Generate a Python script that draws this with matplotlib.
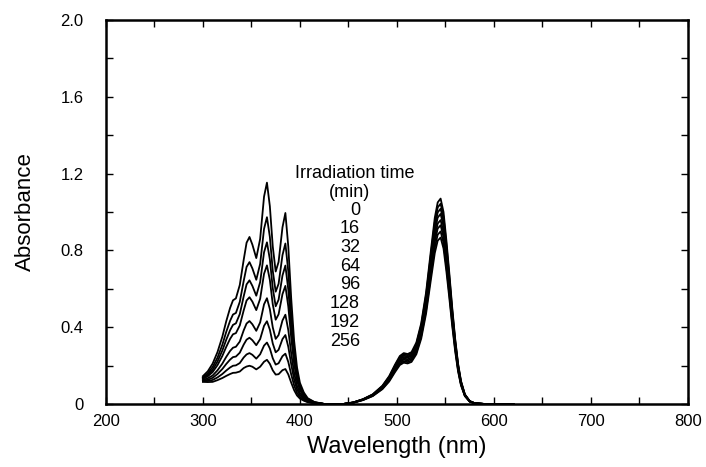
import matplotlib
matplotlib.use("Agg")
import matplotlib.pyplot as plt
from matplotlib.ticker import MultipleLocator, FixedLocator

plt.rcParams['font.family'] = ['Liberation Sans', 'DejaVu Sans']

# ---------------- data ----------------
wavelength = [300, 305, 310, 315, 320, 324, 328, 331, 334, 338, 342, 345, 348, 351, 355, 359,
              363, 366, 369, 372, 375, 378, 382, 385, 388, 391, 394, 397, 400, 404, 408, 415,
              425, 430, 445, 455, 465, 475, 485, 492, 498, 503, 507, 511, 515, 520, 525, 530,
              535, 539, 542, 545, 548, 551, 554, 557, 560, 563, 566, 570, 575, 580, 590, 600, 620]

abs_0 = [.145, .17, .21, .27, .35, .43, .50, .54, .55, .62, .75, .84, .87, .83, .76, .86,
         1.08, 1.153, 1.03, .82, .69, .74, .92, .995, .82, .55, .33, .19, .11, .06, .03, .01,
         0, 0, 0, .008, .025, .05, .095, .145, .205, .25, .265, .26, .27, .32, .42, .58,
         .80, .97, 1.05, 1.07, 1.00, .85, .68, .50, .34, .21, .12, .05, .015, .004, 0, 0, 0]
abs_16 = [.139, .159, .192, .241, .308, .375, .433, .466, .474, .532, .640, .714, .739, .706, .647, .730,
          .912, .973, .870, .694, .585, .626, .775, .836, .690, .464, .280, .161, .094, .052, .026, .009,
          0, 0, 0, .008, .024, .049, .093, .141, .200, .244, .258, .254, .263, .312, .410, .566,
          .780, .946, 1.024, 1.043, .975, .829, .663, .488, .332, .205, .117, .049, .015, .004, 0, 0, 0]
abs_32 = [.135, .151, .178, .221, .278, .334, .384, .412, .420, .468, .560, .623, .644, .615, .564, .635,
          .790, .842, .753, .603, .509, .543, .669, .721, .595, .402, .243, .141, .082, .046, .023, .008,
          0, 0, 0, .008, .024, .048, .090, .138, .195, .238, .252, .247, .257, .304, .399, .551,
          .760, .922, .998, 1.017, .950, .808, .646, .475, .323, .200, .114, .048, .014, .004, 0, 0, 0]
abs_64 = [.131, .144, .166, .202, .250, .297, .339, .363, .369, .409, .487, .539, .556, .533, .489, .548,
          .678, .722, .646, .519, .439, .467, .572, .615, .508, .345, .209, .122, .072, .040, .020, .007,
          0, 0, 0, .007, .023, .046, .088, .134, .190, .231, .245, .241, .250, .296, .389, .537,
          .740, .897, .971, .990, .925, .786, .629, .463, .315, .194, .111, .046, .014, .004, 0, 0, 0]
abs_96 = [.125, .134, .148, .175, .210, .245, .276, .293, .298, .325, .383, .419, .432, .415, .381, .425,
          .519, .551, .494, .399, .339, .359, .435, .465, .385, .264, .162, .095, .057, .032, .016, .006,
          0, 0, 0, .007, .022, .045, .085, .130, .183, .224, .237, .233, .242, .286, .376, .519,
          .716, .868, .940, .958, .895, .761, .609, .448, .304, .188, .107, .045, .013, .004, 0, 0, 0]
abs_128 = [.121, .126, .136, .156, .182, .208, .231, .244, .247, .267, .309, .335, .345, .332, .306, .338,
           .407, .431, .387, .315, .269, .282, .338, .359, .298, .207, .128, .076, .046, .026, .013, .005,
           0, 0, 0, .007, .022, .044, .083, .126, .178, .218, .231, .226, .235, .278, .365, .505,
           .696, .844, .914, .931, .870, .740, .592, .435, .296, .183, .104, .044, .013, .003, 0, 0, 0]
abs_192 = [.118, .120, .125, .138, .156, .174, .190, .199, .201, .213, .242, .258, .265, .256, .236, .259,
           .304, .320, .289, .238, .205, .212, .249, .262, .219, .154, .097, .058, .036, .021, .011, .004,
           0, 0, 0, .007, .021, .042, .080, .122, .172, .210, .223, .218, .227, .269, .353, .487,
           .672, .815, .882, .899, .840, .714, .571, .420, .286, .176, .101, .042, .013, .003, 0, 0, 0]
abs_256 = [.115, .114, .115, .124, .135, .146, .156, .162, .163, .169, .187, .195, .199, .194, .180, .194,
           .220, .230, .209, .175, .153, .155, .176, .182, .154, .111, .072, .044, .028, .017, .009, .003,
           0, 0, 0, .006, .020, .041, .077, .117, .166, .203, .215, .211, .219, .259, .340, .470,
           .648, .786, .851, .867, .810, .689, .551, .405, .275, .170, .097, .041, .012, .003, 0, 0, 0]

spectra = [abs_0, abs_16, abs_32, abs_64, abs_96, abs_128, abs_192, abs_256]
times = ["0", "16", "32", "64", "96", "128", "192", "256"]

x_ticks = [200, 300, 400, 500, 600, 700, 800]
y_ticks = [0, 0.4, 0.8, 1.2, 1.6, 2.0]
y_tick_labels = ["0", "0.4", "0.8", "1.2", "1.6", "2.0"]

# ---------------- figure ----------------
fig = plt.figure(figsize=(7.06, 4.67), dpi=100)
ax = fig.add_axes([0.150, 0.135, 0.8245, 0.822])

for s in spectra:
    ax.plot(wavelength, s, color='black', lw=1.3, solid_joinstyle='round')

ax.set_xlim(200, 800)
ax.set_ylim(0, 2.0)

ax.xaxis.set_major_locator(FixedLocator(x_ticks))
ax.xaxis.set_minor_locator(MultipleLocator(50))
ax.yaxis.set_major_locator(FixedLocator(y_ticks))
ax.set_yticklabels(y_tick_labels)
ax.yaxis.set_minor_locator(MultipleLocator(0.2))

ax.tick_params(which='both', direction='in', top=True, right=True, width=1.0, color='black')
ax.tick_params(which='major', length=5)
ax.tick_params(which='minor', length=5)
ax.tick_params(axis='x', labelsize=12, pad=7)
ax.tick_params(axis='y', labelsize=12, pad=16)

for sp in ax.spines.values():
    sp.set_linewidth(1.8)

ax.set_xlabel("Wavelength (nm)", fontsize=17, labelpad=5)
ax.set_ylabel("Absorbance", fontsize=16, labelpad=18)

# annotation block
ax.text(456, 1.203, "Irradiation time", fontsize=13, ha='center', va='center')
ax.text(451, 1.104, "(min)", fontsize=13, ha='center', va='center')
for i, t in enumerate(times):
    ax.text(462, 1.010 - i * 0.0975, t, fontsize=13, ha='right', va='center')

fig.savefig("out.png", dpi=100)
